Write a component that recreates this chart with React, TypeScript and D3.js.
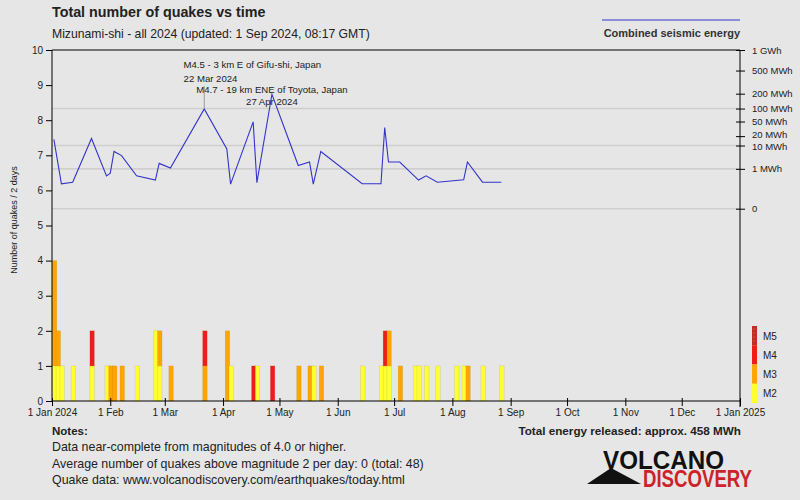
import * as d3 from "d3";
import { useEffect, useRef } from "react";

// 2-day bins (days since 1 Jan 2024) and the quake counts per magnitude class
const binDays = [0, 2, 4, 10, 20, 28, 30, 32, 36, 44, 54, 56, 62, 80, 92, 94, 106, 108, 116, 130, 136, 138, 142, 164, 174, 176, 178, 184, 192, 194, 198, 204, 214, 218, 220, 228, 238];
const m2Counts = [1, 1, 1, 1, 1, 1, 0, 0, 0, 1, 2, 1, 0, 0, 0, 1, 0, 1, 0, 0, 0, 1, 0, 1, 1, 1, 1, 0, 1, 1, 1, 1, 1, 1, 0, 1, 1];
const m3Counts = [3, 1, 0, 0, 0, 0, 1, 1, 1, 0, 0, 1, 1, 1, 2, 0, 0, 0, 0, 1, 1, 0, 1, 0, 0, 0, 1, 1, 0, 0, 0, 0, 0, 0, 1, 0, 0];
const m4Counts = [0, 0, 0, 0, 1, 0, 0, 0, 0, 0, 0, 0, 0, 1, 0, 0, 1, 0, 1, 0, 0, 0, 0, 0, 0, 1, 0, 0, 0, 0, 0, 0, 0, 0, 0, 0, 0];

// combined seismic energy (MWh)
const energyDays = [1, 5, 11, 21, 29, 31, 33, 37, 45, 55, 57, 63, 81, 93, 95, 107, 109, 117, 131, 137, 139, 143, 165, 175, 177, 179, 185, 195, 199, 205, 219, 221, 229, 239];
const energyMWh = [16, 0.095, 0.13, 17, 0.38, 0.57, 6.1, 4.2, 0.38, 0.19, 1.9, 1.1, 98, 7.6, 0.09, 49, 0.12, 195, 1.5, 2.2, 0.09, 6.1, 0.095, 0.095, 35, 2.2, 2.2, 0.19, 0.38, 0.13, 0.2, 2.2, 0.13, 0.13];

const monthLabels = ["1 Jan 2024", "1 Feb", "1 Mar", "1 Apr", "1 May", "1 Jun", "1 Jul", "1 Aug", "1 Sep", "1 Oct", "1 Nov", "1 Dec", "1 Jan 2025"];
const energyTicks = [1000, 500, 200, 100, 50, 20, 10, 1, 0];
const energyTickLabels = ["1 GWh", "500 MWh", "200 MWh", "100 MWh", "50 MWh", "20 MWh", "10 MWh", "1 MWh", "0"];
const energyGrid = [100, 10, 1, 0];

const magLabels = ["M5", "M4", "M3", "M2"];
const magColors = ["#c42a26", "#ee1c1c", "#ffa500", "#ffff33"];

const annotations = [
  { day: 81, label: "M4.5 - 3 km E of Gifu-shi, Japan", date: "22 Mar 2024" },
  { day: 117, label: "M4.7 - 19 km ENE of Toyota, Japan", date: "27 Apr 2024" },
];

const notes = [
  "Data near-complete from magnitudes of 4.0 or higher.",
  "Average number of quakes above magnitude 2 per day: 0 (total: 48)",
  "Quake data: www.volcanodiscovery.com/earthquakes/today.html",
];

const FONT = "'Liberation Sans', Arial, sans-serif";
const T0 = Date.UTC(2024, 0, 1);
const dayDate = (d: number) => new Date(T0 + d * 864e5);

export default function App() {
  const svgRef = useRef<SVGSVGElement | null>(null);

  useEffect(() => {
    if (!svgRef.current) return;
    const svg = d3.select(svgRef.current);
    svg.selectAll("*").remove();

    const width = 800;
    const height = 500;
    const plot = { left: 52, right: 740, top: 50, bottom: 401 };

    svg.append("rect").attr("width", width).attr("height", height).attr("fill", "#e6e6e6");

    const x = d3
      .scaleUtc()
      .domain([new Date(T0), new Date(Date.UTC(2025, 0, 1))])
      .range([plot.left, plot.right]);
    const y = d3.scaleLinear().domain([0, 10]).range([plot.bottom, plot.top]);
    const yE = d3.scalePow().exponent(0.2).domain([0, 1000]).range([208.7, plot.top]);

    // energy gridlines
    svg
      .append("g")
      .selectAll("line")
      .data(energyGrid)
      .join("line")
      .attr("x1", plot.left)
      .attr("x2", plot.right)
      .attr("y1", (d) => yE(d))
      .attr("y2", (d) => yE(d))
      .attr("stroke", "#cfcfcf")
      .attr("stroke-width", 1.6);

    // stacked bars
    const barW = x(dayDate(2)) - x(dayDate(0)) + 0.7;
    const segs: { day: number; y0: number; y1: number; color: string }[] = [];
    binDays.forEach((day, i) => {
      const c = [m2Counts[i], m3Counts[i], m4Counts[i]];
      const cols = [magColors[3], magColors[2], magColors[1]];
      let base = 0;
      c.forEach((n, k) => {
        if (n > 0) {
          segs.push({ day, y0: base, y1: base + n, color: cols[k] });
          base += n;
        }
      });
    });
    svg
      .append("g")
      .selectAll("rect")
      .data(segs)
      .join("rect")
      .attr("x", (d) => x(dayDate(d.day)) + 0.3)
      .attr("y", (d) => y(d.y1))
      .attr("width", barW)
      .attr("height", (d) => y(d.y0) - y(d.y1))
      .attr("fill", (d) => d.color)
      .attr("stroke", "rgba(120,90,0,0.18)")
      .attr("stroke-width", 0.6);

    // energy line
    const pts = energyDays.map((d, i) => ({ date: dayDate(d), e: energyMWh[i] }));
    const line = d3
      .line<{ date: Date; e: number }>()
      .x((d) => x(d.date))
      .y((d) => yE(d.e));
    svg
      .append("path")
      .datum(pts)
      .attr("fill", "none")
      .attr("stroke", "#3333cc")
      .attr("stroke-width", 1.1)
      .attr("d", line);

    // annotations
    const a1 = annotations[0];
    const ax1 = x(dayDate(a1.day));
    svg
      .append("line")
      .attr("x1", ax1)
      .attr("x2", ax1)
      .attr("y1", yE(energyMWh[energyDays.indexOf(a1.day)]))
      .attr("y2", 86)
      .attr("stroke", "#999")
      .attr("stroke-width", 1);
    const annG = svg.append("g").attr("font-family", FONT).attr("font-size", 9.6).attr("fill", "#222");
    annG.append("text").attr("x", ax1 - 20.7).attr("y", 67.5).attr("text-anchor", "start").text(a1.label);
    annG.append("text").attr("x", ax1 - 20.7).attr("y", 82).attr("text-anchor", "start").text(a1.date);
    const a2 = annotations[1];
    const ax2 = x(dayDate(a2.day));
    annG.append("text").attr("x", ax2).attr("y", 92.5).attr("text-anchor", "middle").text(a2.label);
    annG.append("text").attr("x", ax2).attr("y", 104.5).attr("text-anchor", "middle").text(a2.date);

    // frame
    svg
      .append("path")
      .attr("d", `M${plot.left},${plot.bottom}V${plot.top}H${plot.right}V${plot.bottom + 6}`)
      .attr("fill", "none")
      .attr("stroke", "#000")
      .attr("stroke-width", 1);

    // left axis
    const yAxisGroup = svg
      .append("g")
      .attr("transform", `translate(${plot.left},0)`)
      .call(d3.axisLeft(y).ticks(10).tickSize(6).tickPadding(3) as any);
    yAxisGroup.select(".domain").remove();
    yAxisGroup.selectAll("line").attr("stroke", "#000");
    yAxisGroup.selectAll("text").attr("fill", "#222").attr("font-size", 10).attr("font-family", FONT);

    // bottom axis
    const months = d3.range(13).map((m) => new Date(Date.UTC(2024, m, 1)));
    const xAxisGroup = svg
      .append("g")
      .attr("transform", `translate(0,${plot.bottom})`)
      .call(
        d3
          .axisBottom(x)
          .tickValues(months)
          .tickFormat((_d: any, i: number) => monthLabels[i])
          .tickSize(5)
          .tickPadding(3) as any
      );
    xAxisGroup.select(".domain").attr("d", `M${plot.left},0H${plot.right}`).attr("stroke", "#000");
    xAxisGroup.selectAll(".tick line").attr("y1", -3).attr("stroke", "#000");
    xAxisGroup.selectAll("text").attr("fill", "#222").attr("font-size", 10).attr("font-family", FONT);

    // right energy axis
    const eAxisGroup = svg
      .append("g")
      .attr("transform", `translate(${plot.right},0)`)
      .call(
        d3
          .axisRight(yE)
          .tickValues(energyTicks)
          .tickFormat((_d: any, i: number) => energyTickLabels[i])
          .tickSize(5)
          .tickPadding(7) as any
      );
    eAxisGroup.select(".domain").remove();
    eAxisGroup.selectAll(".tick line").attr("x1", -4).attr("stroke", "#000");
    eAxisGroup
      .selectAll("text")
      .attr("fill", "#222")
      .attr("font-size", 9.5)
      .attr("font-family", FONT)
      .attr("dy", (_d: any, i: number) => (i === 5 ? "0.12em" : i === 6 ? "0.42em" : "0.32em"));

    // y axis title
    svg
      .append("text")
      .attr("transform", `translate(17,220) rotate(-90)`)
      .attr("text-anchor", "middle")
      .attr("font-family", FONT)
      .attr("font-size", 9)
      .attr("fill", "#222")
      .text("Number of quakes / 2 days");

    // magnitude legend
    const legY = d3.scaleBand<string>().domain(magLabels).range([326, 403]);
    const legG = svg.append("g").attr("font-family", FONT).attr("font-size", 10).attr("fill", "#222");
    legG
      .selectAll("rect")
      .data(magLabels)
      .join("rect")
      .attr("x", 752)
      .attr("y", (d) => legY(d)!)
      .attr("width", 5)
      .attr("height", legY.bandwidth())
      .attr("fill", (_d, i) => magColors[i]);
    legG
      .selectAll("circle")
      .data(d3.range(4))
      .join("circle")
      .attr("cx", 754)
      .attr("cy", (i) => legY("M5")! + 3 + i * 4)
      .attr("r", 0.5)
      .attr("fill", "#f0a020");
    legG
      .selectAll("text")
      .data(magLabels)
      .join("text")
      .attr("x", 763)
      .attr("y", (d) => legY(d)! + legY.bandwidth() / 2 + 4)
      .text((d) => d);

    // titles
    svg
      .append("text")
      .attr("x", 52)
      .attr("y", 17)
      .attr("font-family", FONT)
      .attr("font-weight", "bold")
      .attr("font-size", 14.3)
      .attr("fill", "#222")
      .text("Total number of quakes vs time");
    svg
      .append("text")
      .attr("x", 52)
      .attr("y", 38)
      .attr("font-family", FONT)
      .attr("font-size", 12.2)
      .attr("fill", "#222")
      .text("Mizunami-shi - all 2024 (updated: 1 Sep 2024, 08:17 GMT)");

    // energy legend
    svg.append("line").attr("x1", 602).attr("x2", 740).attr("y1", 20).attr("y2", 20).attr("stroke", "#3333cc").attr("stroke-width", 1.1);
    svg
      .append("text")
      .attr("x", 740)
      .attr("y", 37)
      .attr("text-anchor", "end")
      .attr("font-family", FONT)
      .attr("font-weight", "bold")
      .attr("font-size", 11)
      .attr("fill", "#333")
      .text("Combined seismic energy");

    // notes
    const noteG = svg.append("g").attr("font-family", FONT).attr("fill", "#222");
    noteG.append("text").attr("x", 52).attr("y", 435).attr("font-weight", "bold").attr("font-size", 11.5).text("Notes:");
    noteG
      .selectAll("text.note")
      .data(notes)
      .join("text")
      .attr("class", "note")
      .attr("x", 52)
      .attr("y", (_d, i) => 451 + i * 16.5)
      .attr("font-size", 12.4)
      .text((d) => d);
    noteG
      .append("text")
      .attr("x", 741)
      .attr("y", 435)
      .attr("text-anchor", "end")
      .attr("font-weight", "bold")
      .attr("font-size", 11.7)
      .text("Total energy released: approx. 458 MWh");

    // logo
    const logo = svg.append("g");
    logo.append("path").attr("d", "M587,484L611,468L641,484Z").attr("fill", "#111");
    logo
      .append("text")
      .attr("x", 603)
      .attr("y", 468.5)
      .attr("font-family", FONT)
      .attr("font-weight", "bold")
      .attr("font-size", 26)
      .attr("textLength", 121)
      .attr("lengthAdjust", "spacingAndGlyphs")
      .attr("fill", "#111")
      .text("VOLCANO");
    logo
      .append("text")
      .attr("x", 643)
      .attr("y", 487)
      .attr("font-family", FONT)
      .attr("font-weight", "bold")
      .attr("font-size", 23.5)
      .attr("textLength", 109)
      .attr("lengthAdjust", "spacingAndGlyphs")
      .attr("fill", "#cc2229")
      .text("DISCOVERY");
  }, []);

  return (
    <svg
      ref={svgRef}
      width={800}
      height={500}
      style={{ position: "absolute", left: 0, top: 0 }}
      aria-label="Total number of quakes vs time"
    />
  );
}
